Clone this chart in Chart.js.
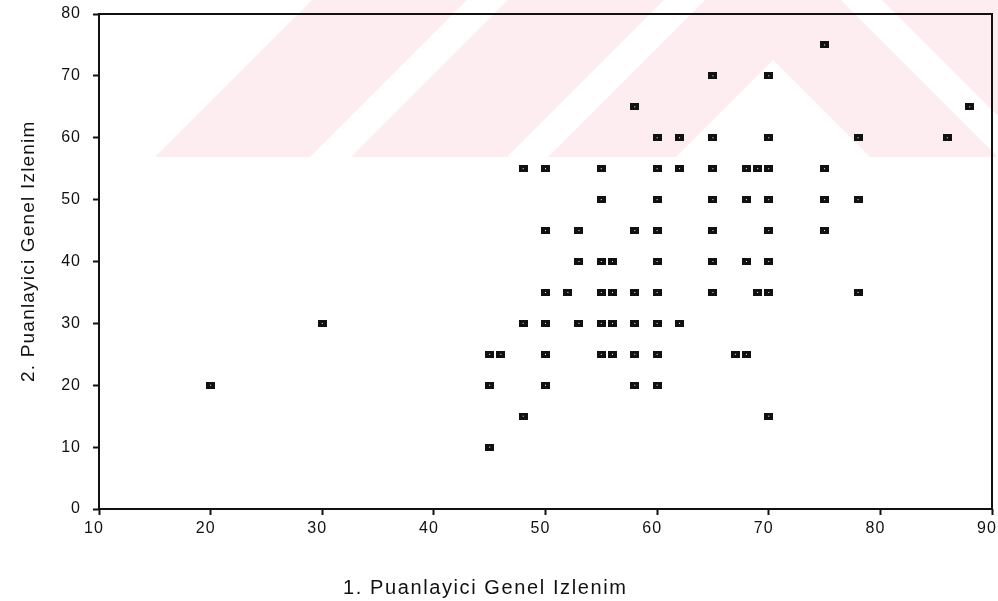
<!DOCTYPE html>
<html>
<head>
<meta charset="utf-8">
<script src="https://cdn.jsdelivr.net/npm/chart.js@4.4.1/dist/chart.umd.min.js"></script>
<style>
    html, body { margin: 0; padding: 0; background: #fff; }
    #wrap { width: 998px; height: 601px; }
</style>
</head>
<body>
<div id="wrap"><canvas id="chart" width="998" height="601"></canvas></div>
<script>
// scores, one row of the plot at a time (top to bottom)
const xValues = [
    75,
    65, 70,
    58, 88,
    60, 62, 65, 70, 78, 86,
    48, 50, 55, 60, 62, 65, 68, 69, 70, 75,
    55, 60, 65, 68, 70, 75, 78,
    50, 53, 58, 60, 65, 70, 75,
    53, 55, 56, 60, 65, 68, 70,
    50, 52, 55, 56, 58, 60, 65, 69, 70, 78,
    30, 48, 50, 53, 55, 56, 58, 60, 62,
    45, 46, 50, 55, 56, 58, 60, 67, 68,
    20, 45, 50, 58, 60,
    48, 70,
    45,
];
const yValues = [
    75,
    70, 70,
    65, 65,
    60, 60, 60, 60, 60, 60,
    55, 55, 55, 55, 55, 55, 55, 55, 55, 55,
    50, 50, 50, 50, 50, 50, 50,
    45, 45, 45, 45, 45, 45, 45,
    40, 40, 40, 40, 40, 40, 40,
    35, 35, 35, 35, 35, 35, 35, 35, 35, 35,
    30, 30, 30, 30, 30, 30, 30, 30, 30,
    25, 25, 25, 25, 25, 25, 25, 25, 25,
    20, 20, 20, 20, 20,
    15, 15,
    10,
];
const xTitle = "1. Puanlayici Genel Izlenim";
const yTitle = "2. Puanlayici Genel Izlenim";

const ink = "#111";
const fontFamily = "'Liberation Sans', Arial, sans-serif";

// small black square with a pinhole, like the scanned markers
const marker = document.createElement("canvas");
marker.width = 9;
marker.height = 7;
const mctx = marker.getContext("2d");
mctx.fillStyle = ink;
mctx.fillRect(0, 0, 9, 7);
mctx.fillStyle = "#fff";
mctx.fillRect(4, 3, 1, 1);

// faint pink chevrons of the thesis watermark behind the plot
const watermark = {
    id: "watermark",
    beforeDraw(chart) {
        const ctx = chart.ctx;
        ctx.save();
        ctx.fillStyle = "#fff";
        ctx.fillRect(0, 0, chart.width, chart.height);
        ctx.beginPath();
        ctx.rect(0, 0, chart.width, 157);
        ctx.clip();
        ctx.fillStyle = "rgb(253,237,241)";
        const c = 773, h = 157;
        const bands = [[-60, 68], [109, 265], [306, 461]];
        bands.forEach(([t1, t2]) => {
            ctx.beginPath();
            ctx.moveTo(c - t2, 0);
            ctx.lineTo(c - h - t2, h);
            ctx.lineTo(c - h - t1, h);
            if (t1 < 0) {
                ctx.lineTo(c, -t1);
            } else {
                ctx.lineTo(c - t1, 0);
                ctx.lineTo(c + t1, 0);
            }
            ctx.lineTo(c + h + t1, h);
            ctx.lineTo(c + h + t2, h);
            ctx.lineTo(c + t2, 0);
            ctx.closePath();
            ctx.fill();
        });
        ctx.restore();
        ctx.letterSpacing = "1px";
    },
    afterDraw(chart) {
        const ctx = chart.ctx;
        const a = chart.chartArea;
        ctx.save();
        ctx.strokeStyle = ink;
        ctx.lineWidth = 2;
        ctx.strokeRect(a.left, a.top, a.right - a.left, a.bottom - a.top);

        ctx.fillStyle = ink;
        ctx.textAlign = "left";
        ctx.textBaseline = "alphabetic";
        ctx.font = `20px ${fontFamily}`;
        ctx.letterSpacing = "1.6px";
        ctx.fillText(xTitle, 343, 594);

        ctx.font = `19px ${fontFamily}`;
        ctx.letterSpacing = "1.2px";
        ctx.translate(34, 382);
        ctx.rotate(-Math.PI / 2);
        ctx.fillText(yTitle, 0, 0);
        ctx.restore();
    },
};

const points = xValues.map((x, i) => ({ x: x, y: yValues[i] }));

new Chart(document.getElementById("chart"), {
    type: "scatter",
    data: {
        datasets: [
            {
                data: points,
                pointStyle: marker,
                pointRadius: 5,
                pointHoverRadius: 5,
            },
        ],
    },
    options: {
        responsive: false,
        animation: false,
        layout: {
            padding: { top: 14, right: 6, left: 0, bottom: 0 },
        },
        plugins: {
            legend: { display: false },
            tooltip: { enabled: false },
        },
        scales: {
            x: {
                type: "linear",
                min: 10,
                max: 90,
                afterFit: (scale) => {
                    scale.height = 92;
                    scale.paddingLeft = 0;
                    scale.paddingRight = 0;
                },
                ticks: {
                    stepSize: 10,
                    color: ink,
                    font: { family: fontFamily, size: 16 },
                    padding: 4,
                    labelOffset: -5,
                    maxRotation: 0,
                },
                grid: {
                    drawOnChartArea: false,
                    color: ink,
                    tickLength: 6,
                    tickWidth: 2,
                },
                border: { display: false },
            },
            y: {
                min: 0,
                max: 80,
                afterFit: (scale) => {
                    scale.width = 99;
                    scale.paddingTop = 0;
                    scale.paddingBottom = 0;
                },
                ticks: {
                    stepSize: 10,
                    color: ink,
                    font: { family: fontFamily, size: 16 },
                    padding: 12,
                },
                grid: {
                    drawOnChartArea: false,
                    color: ink,
                    tickLength: 6,
                    tickWidth: 2,
                },
                border: { display: false },
            },
        },
    },
    plugins: [watermark],
});
</script>
</body>
</html>
